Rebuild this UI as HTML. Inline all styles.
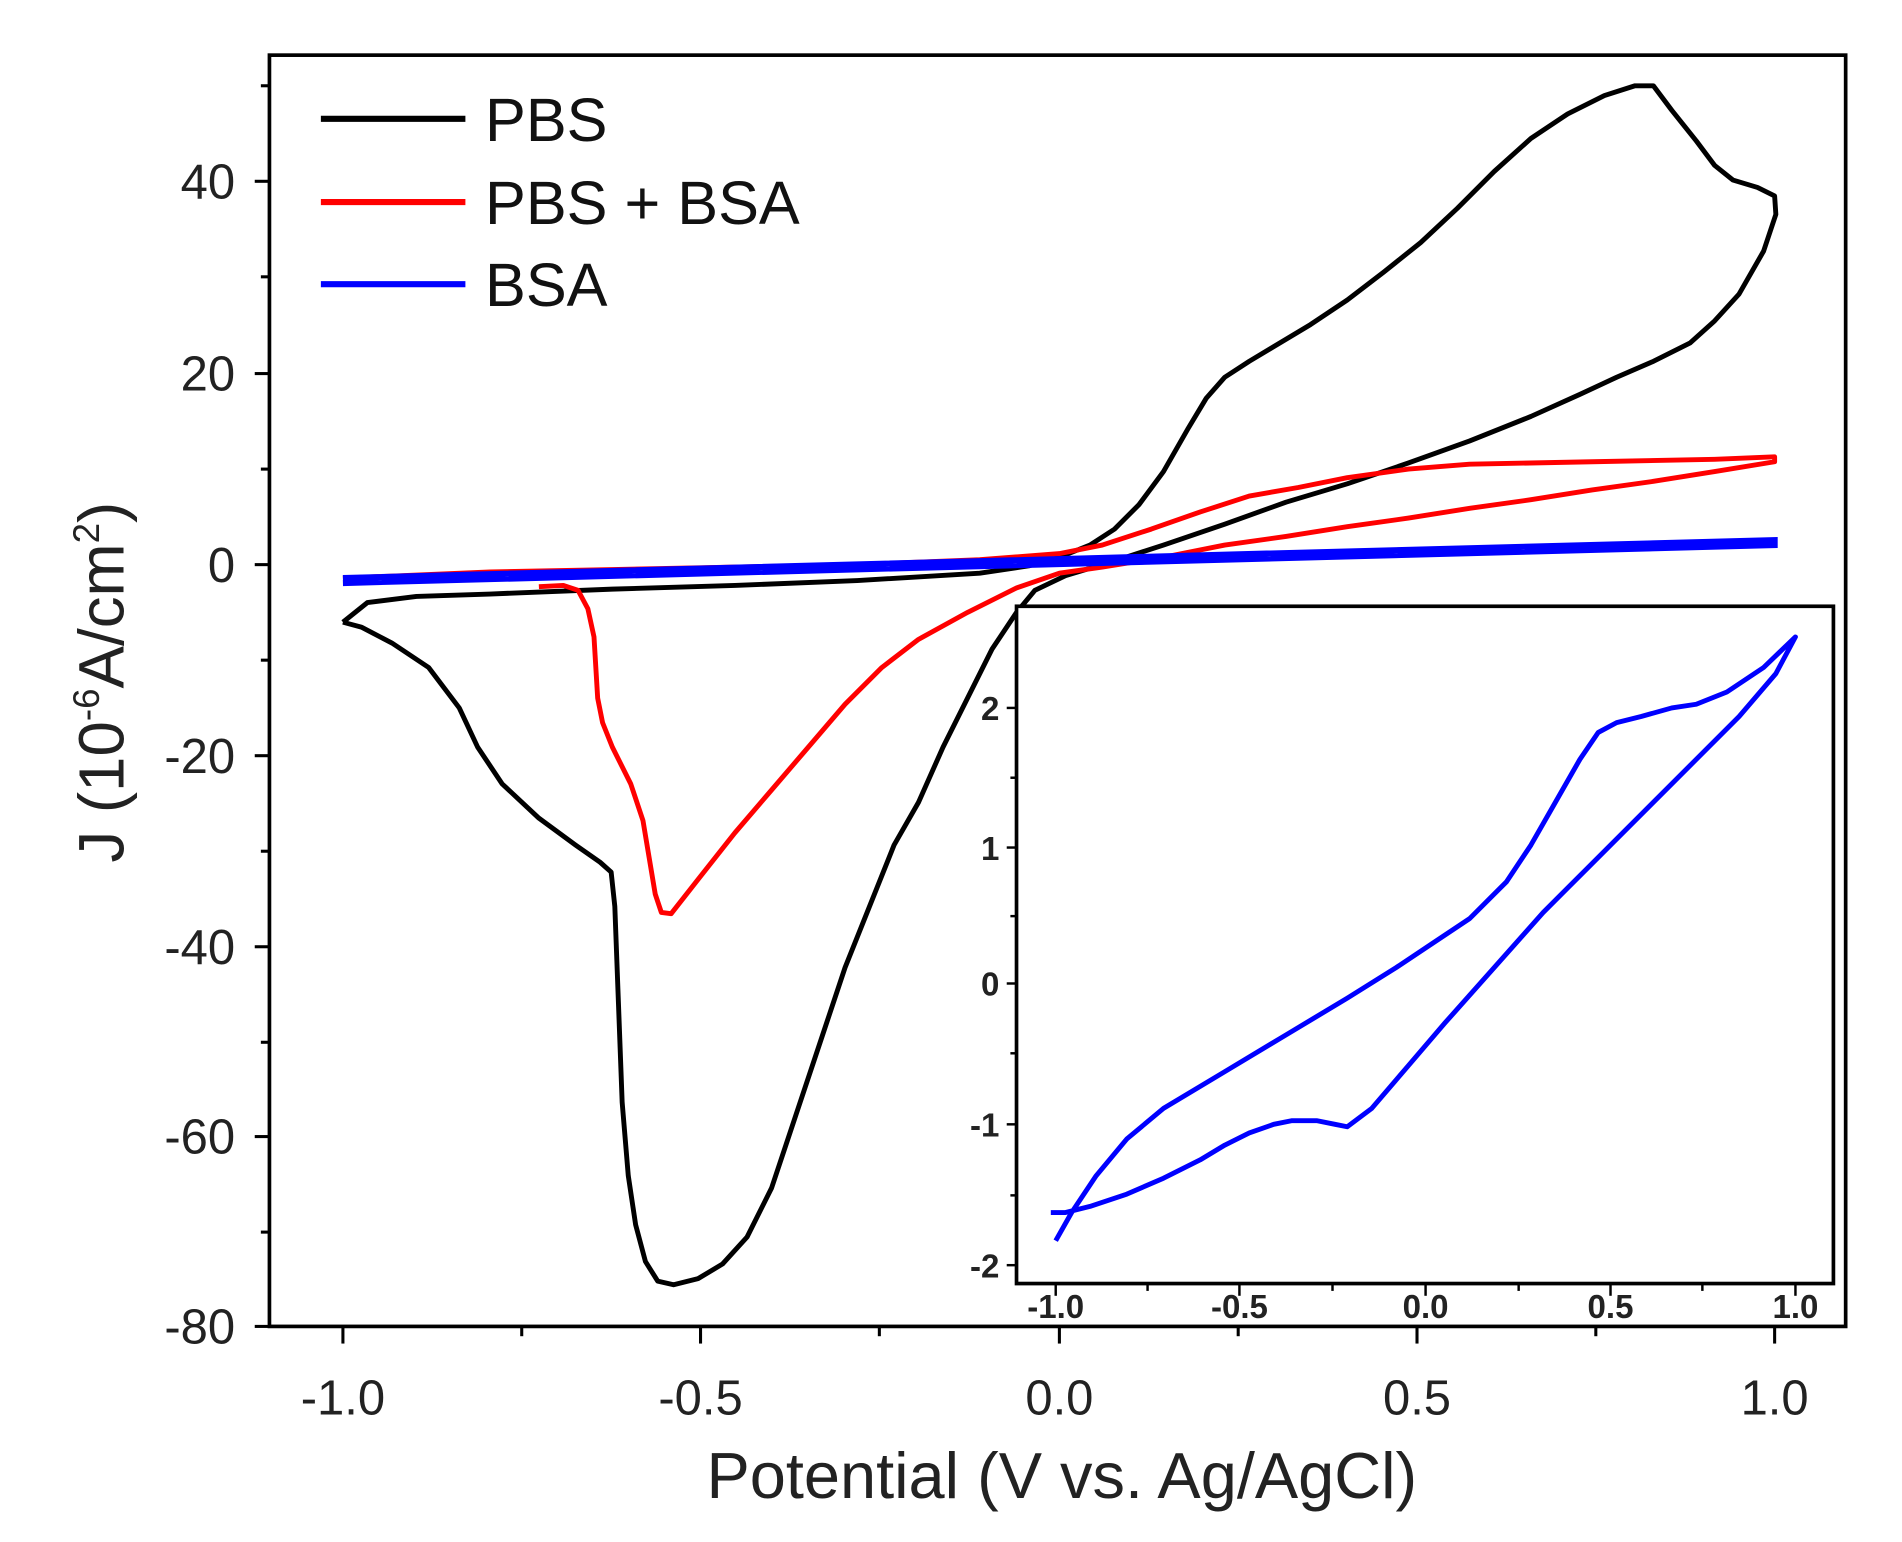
<!DOCTYPE html>
<html><head><meta charset="utf-8"><style>html,body{margin:0;padding:0;background:#fff}svg{display:block}</style></head>
<body>
<svg width="1902" height="1542" viewBox="0 0 1553 1259" xmlns="http://www.w3.org/2000/svg" font-family="Liberation Sans, Arial, sans-serif">
<rect width="1553" height="1259" fill="#fff"/>
<rect x="220" y="45" width="1287" height="1038" fill="none" stroke="#000" stroke-width="3"/>
<g stroke="#000" stroke-width="2.5">
<line x1="208" y1="148" x2="220" y2="148"/><line x1="208" y1="305" x2="220" y2="305"/><line x1="208" y1="461" x2="220" y2="461"/><line x1="208" y1="617" x2="220" y2="617"/><line x1="208" y1="773" x2="220" y2="773"/><line x1="208" y1="928" x2="220" y2="928"/><line x1="208" y1="1083" x2="220" y2="1083"/>
<line x1="213" y1="70" x2="220" y2="70"/><line x1="213" y1="226" x2="220" y2="226"/><line x1="213" y1="383" x2="220" y2="383"/><line x1="213" y1="539" x2="220" y2="539"/><line x1="213" y1="695" x2="220" y2="695"/><line x1="213" y1="851" x2="220" y2="851"/><line x1="213" y1="1006" x2="220" y2="1006"/>
<line x1="280" y1="1083" x2="280" y2="1097"/><line x1="572" y1="1083" x2="572" y2="1097"/><line x1="865" y1="1083" x2="865" y2="1097"/><line x1="1157" y1="1083" x2="1157" y2="1097"/><line x1="1449" y1="1083" x2="1449" y2="1097"/>
<line x1="426" y1="1083" x2="426" y2="1091"/><line x1="718" y1="1083" x2="718" y2="1091"/><line x1="1011" y1="1083" x2="1011" y2="1091"/><line x1="1303" y1="1083" x2="1303" y2="1091"/>
</g>
<g font-size="40" fill="#222" text-anchor="end">
<text x="192" y="162">40</text><text x="192" y="319">20</text><text x="192" y="475">0</text><text x="192" y="631">-20</text><text x="192" y="787">-40</text><text x="192" y="942">-60</text><text x="192" y="1097">-80</text>
</g>
<g font-size="40" fill="#222" text-anchor="middle">
<text x="280" y="1155">-1.0</text><text x="572" y="1155">-0.5</text><text x="865" y="1155">0.0</text><text x="1157" y="1155">0.5</text><text x="1449" y="1155">1.0</text>
</g>
<text x="867" y="1223" font-size="53" fill="#222" text-anchor="middle">Potential (V vs. Ag/AgCl)</text>
<text transform="translate(101,557) rotate(-90)" font-size="52" fill="#222" text-anchor="middle">J (10<tspan font-size="30" dy="-20">-6</tspan><tspan dy="20">A/cm</tspan><tspan font-size="30" dy="-20">2</tspan><tspan dy="20">)</tspan></text>
<g stroke-width="5">
<line x1="262" y1="97" x2="380" y2="97" stroke="#000"/>
<line x1="262" y1="165" x2="380" y2="165" stroke="#f00"/>
<line x1="262" y1="232" x2="380" y2="232" stroke="#00f"/>
</g>
<g font-size="50" fill="#111">
<text x="396" y="115">PBS</text><text x="396" y="183">PBS + BSA</text><text x="396" y="250">BSA</text>
</g>
<polyline fill="none" stroke="#000" stroke-width="4" stroke-linejoin="round" points="280,508 300,492 340,487 400,485 500,481 600,478 700,474 800,468 840,462 865,455 890,445 910,432 930,412 950,385 970,350 985,325 1000,308 1020,295 1040,283 1070,265 1100,245 1130,222 1160,198 1190,170 1220,140 1250,113 1280,93 1310,78 1335,70 1350,70 1365,90 1385,115 1400,135 1415,147 1435,153 1449,160 1450,175 1440,205 1420,240 1400,262 1380,280 1350,295 1320,308 1290,322 1250,340 1200,360 1150,378 1100,395 1050,410 1000,428 950,445 910,458 870,470 845,482 830,500 810,530 790,570 770,610 750,655 730,690 710,740 690,790 670,850 650,910 630,970 610,1010 590,1032 570,1044 550,1049 537,1046 527,1030 519,1000 513,960 508,900 505,820 502,740 499,712 490,704 470,690 440,668 410,640 390,610 375,578 350,545 320,525 295,512 280,508"/>
<polyline fill="none" stroke="#f00" stroke-width="4" stroke-linejoin="round" points="280,472 400,467 500,465 600,463 700,461 800,457 865,452 900,445 940,432 980,418 1020,405 1060,398 1100,390 1150,383 1200,379 1300,377 1400,375 1449,373 1449,377 1400,385 1350,393 1300,400 1250,408 1200,415 1150,423 1100,430 1050,438 1000,445 950,455 900,463 865,468 830,480 790,500 750,522 720,545 690,575 660,610 630,645 600,680 570,718 548,746 540,745 535,730 530,700 525,670 515,640 500,610 492,590 488,570 485,520 480,497 472,482 460,478 440,479"/>
<polyline fill="none" stroke="#00f" stroke-width="5" points="280,476 1449,445 1449,441 280,472"/>
<rect x="830" y="495" width="667" height="553" fill="#fff" stroke="#000" stroke-width="3"/>
<g stroke="#000" stroke-width="2">
<line x1="822" y1="578" x2="830" y2="578"/><line x1="822" y1="692" x2="830" y2="692"/><line x1="822" y1="803" x2="830" y2="803"/><line x1="822" y1="918" x2="830" y2="918"/><line x1="822" y1="1033" x2="830" y2="1033"/>
<line x1="825" y1="635" x2="830" y2="635"/><line x1="825" y1="748" x2="830" y2="748"/><line x1="825" y1="860" x2="830" y2="860"/><line x1="825" y1="976" x2="830" y2="976"/>
<line x1="862" y1="1048" x2="862" y2="1058"/><line x1="1012" y1="1048" x2="1012" y2="1058"/><line x1="1164" y1="1048" x2="1164" y2="1058"/><line x1="1315" y1="1048" x2="1315" y2="1058"/><line x1="1466" y1="1048" x2="1466" y2="1058"/>
<line x1="937" y1="1048" x2="937" y2="1054"/><line x1="1088" y1="1048" x2="1088" y2="1054"/><line x1="1240" y1="1048" x2="1240" y2="1054"/><line x1="1390" y1="1048" x2="1390" y2="1054"/>
</g>
<g font-size="27" font-weight="bold" fill="#222" text-anchor="end">
<text x="816" y="588">2</text><text x="816" y="702">1</text><text x="816" y="813">0</text><text x="816" y="928">-1</text><text x="816" y="1043">-2</text>
</g>
<g font-size="27" font-weight="bold" fill="#222" text-anchor="middle">
<text x="862" y="1076">-1.0</text><text x="1012" y="1076">-0.5</text><text x="1164" y="1076">0.0</text><text x="1315" y="1076">0.5</text><text x="1466" y="1076">1.0</text>
</g>
<polyline fill="none" stroke="#00f" stroke-width="4" stroke-linejoin="round" points="862,1013 875,990 895,960 920,930 950,905 1000,875 1050,845 1100,815 1140,790 1170,770 1200,750 1230,720 1250,690 1270,655 1290,620 1305,598 1320,590 1340,585 1365,578 1385,575 1410,565 1440,545 1466,520 1450,550 1420,585 1380,625 1340,665 1300,705 1260,745 1220,790 1180,835 1150,870 1120,905 1100,920 1090,918 1075,915 1055,915 1040,918 1020,925 1000,935 980,947 950,962 920,975 890,985 870,990 858,990"/>
</svg>
</body></html>
